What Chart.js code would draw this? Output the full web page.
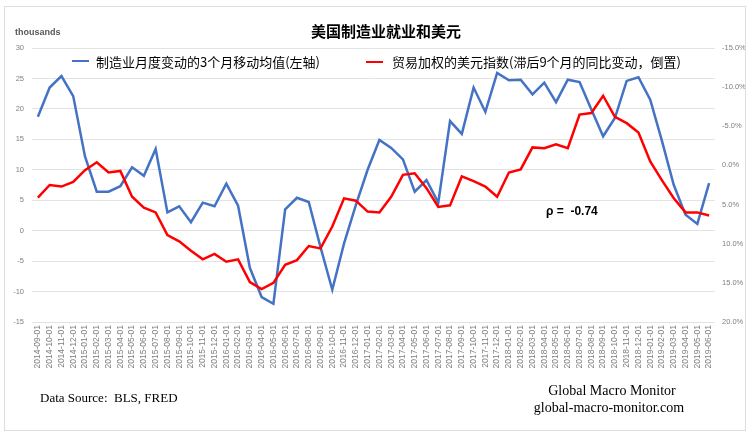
<!DOCTYPE html>
<html>
<head>
<meta charset="utf-8">
<script src="https://cdn.jsdelivr.net/npm/chart.js@4.4.1/dist/chart.umd.min.js"></script>
<style>
  body { margin: 0; background: #fff; }
  #wrap { position: relative; width: 749px; height: 440px; }
  #frame { position: absolute; left: 4px; top: 6px; width: 740px; height: 423px; border: 1px solid #dcdcdc; pointer-events: none; }
  .txt { position: absolute; white-space: nowrap; }
  #title { left: 386px; top: 20px; transform: translateX(-50%); font: bold 15px "Noto Sans CJK SC", sans-serif; color: #000; }
  #units { left: 15px; top: 27px; font: bold 9px "Liberation Sans", Arial, sans-serif; color: #595959; }
  .leg { top: 52px; font: 13px "Noto Sans CJK SC", sans-serif; color: #000; }
  .swatch { position: absolute; height: 2px; }
  #rho { left: 546px; top: 204px; font: bold 12px "Liberation Sans", Arial, sans-serif; color: #000; }
  .serif { font: 13px "Liberation Serif", "Times New Roman", serif; color: #000; }
</style>
</head>
<body>
<div id="wrap">
  <canvas id="myChart" width="749" height="440"></canvas>
  <div id="frame"></div>
  <div class="txt" id="units">thousands</div>
  <div class="txt" id="title">美国制造业就业和美元</div>
  <div class="swatch" style="left:72px; top:60px; width:17px; background:#4472C4;"></div>
  <div class="txt leg" style="left:96px;">制造业月度变动的3个月移动均值(左轴)</div>
  <div class="swatch" style="left:366px; top:61px; width:17px; background:#FF0000;"></div>
  <div class="txt leg" style="left:392px;">贸易加权的美元指数(滞后9个月的同比变动，倒置)</div>
  <div class="txt" id="rho">ρ =&nbsp; -0.74</div>
  <div class="txt serif" style="left:40px; top:390px;">Data Source:&nbsp; BLS, FRED</div>
  <div class="txt serif" style="left:612px; top:383px; transform:translateX(-50%); font-size:14px;">Global Macro Monitor</div>
  <div class="txt serif" style="left:609px; top:400px; transform:translateX(-50%); font-size:14px;">global-macro-monitor.com</div>
</div>
<script>
// 月份标签
const meses = [
  '2014-09-01', '2014-10-01', '2014-11-01', '2014-12-01',
  '2015-01-01', '2015-02-01', '2015-03-01', '2015-04-01', '2015-05-01', '2015-06-01',
  '2015-07-01', '2015-08-01', '2015-09-01', '2015-10-01', '2015-11-01', '2015-12-01',
  '2016-01-01', '2016-02-01', '2016-03-01', '2016-04-01', '2016-05-01', '2016-06-01',
  '2016-07-01', '2016-08-01', '2016-09-01', '2016-10-01', '2016-11-01', '2016-12-01',
  '2017-01-01', '2017-02-01', '2017-03-01', '2017-04-01', '2017-05-01', '2017-06-01',
  '2017-07-01', '2017-08-01', '2017-09-01', '2017-10-01', '2017-11-01', '2017-12-01',
  '2018-01-01', '2018-02-01', '2018-03-01', '2018-04-01', '2018-05-01', '2018-06-01',
  '2018-07-01', '2018-08-01', '2018-09-01', '2018-10-01', '2018-11-01', '2018-12-01',
  '2019-01-01', '2019-02-01', '2019-03-01', '2019-04-01', '2019-05-01', '2019-06-01'
];

// 制造业就业 3个月移动均值 (千人)
const empleo = [
  18.7, 23.5, 25.4, 22.1, 12.2, 6.4, 6.4, 7.3, 10.4, 9.0,
  13.4, 3.0, 4.0, 1.4, 4.6, 4.0, 7.7, 4.1, -6.1, -10.9,
  -12.0, 3.5, 5.4, 4.7, -2.7, -9.7, -2.1, 4.2, 10.0, 14.9,
  13.6, 11.7, 6.4, 8.3, 4.6, 18.0, 15.9, 23.5, 19.5, 25.9,
  24.7, 24.8, 22.4, 24.3, 21.1, 24.8, 24.4, 19.9, 15.5, 18.5,
  24.6, 25.2, 21.5, 14.7, 7.5, 2.6, 1.1, 7.8
];

// 美元指数同比变动 (%), 右轴倒置
const dolar = [
  4.1, 2.5, 2.7, 2.1, 0.6, -0.4, 0.9, 0.7, 4.0, 5.4,
  6.0, 8.9, 9.7, 10.9, 12.0, 11.3, 12.3, 12.0, 14.9, 15.8,
  15.0, 12.7, 12.1, 10.3, 10.6, 7.8, 4.2, 4.5, 5.9, 6.0,
  4.0, 1.2, 1.0, 2.9, 5.3, 5.1, 1.4, 2.0, 2.7, 4.0,
  0.9, 0.5, -2.3, -2.2, -2.7, -2.2, -6.5, -6.7, -8.9, -6.2,
  -5.4, -4.2, -0.5, 1.9, 4.2, 6.0, 6.0, 6.4
];

const tickFont = { family: '"Liberation Sans", Arial, sans-serif', size: 7.5 };

const ctx = document.getElementById('myChart').getContext('2d');
const myChart = new Chart(ctx, {
  type: 'line',
  data: {
    labels: meses,
    datasets: [
      {
        label: '制造业月度变动的3个月移动均值(左轴)',
        data: empleo,
        yAxisID: 'y',
        borderColor: '#4472C4',
        borderWidth: 2.5,
        pointRadius: 0,
        tension: 0,
        order: 1
      },
      {
        label: '贸易加权的美元指数(滞后9个月的同比变动，倒置)',
        data: dolar,
        yAxisID: 'y1',
        borderColor: '#FF0000',
        borderWidth: 2.5,
        pointRadius: 0,
        tension: 0,
        order: 0
      }
    ]
  },
  options: {
    responsive: false,
    animation: false,
    layout: { padding: { top: 48, left: 0, right: 0, bottom: 0 } },
    plugins: {
      legend: { display: false },
      tooltip: { enabled: false }
    },
    scales: {
      x: {
        offset: true,
        grid: { display: false, drawTicks: false },
        border: { display: false },
        ticks: {
          autoSkip: false,
          maxRotation: 90,
          minRotation: 90,
          padding: 3,
          color: '#7f7f7f',
          font: { family: '"Liberation Sans", Arial, sans-serif', size: 8.5 }
        },
        afterFit: (scale) => { scale.height = 118; }
      },
      y: {
        position: 'left',
        min: -15,
        max: 30,
        grid: { color: '#e3e3e3', lineWidth: 1, drawTicks: false },
        border: { display: false },
        ticks: { stepSize: 5, padding: 8, color: '#7f7f7f', font: tickFont },
        afterFit: (scale) => { scale.width = 32; }
      },
      y1: {
        position: 'right',
        min: -15,
        max: 20,
        reverse: true,
        grid: { display: false, drawTicks: false },
        border: { display: false },
        ticks: {
          stepSize: 5,
          padding: 7,
          color: '#7f7f7f',
          font: tickFont,
          callback: (v) => v.toFixed(1) + '%'
        },
        afterFit: (scale) => { scale.width = 34; }
      }
    }
  }
});
</script>
</body>
</html>
